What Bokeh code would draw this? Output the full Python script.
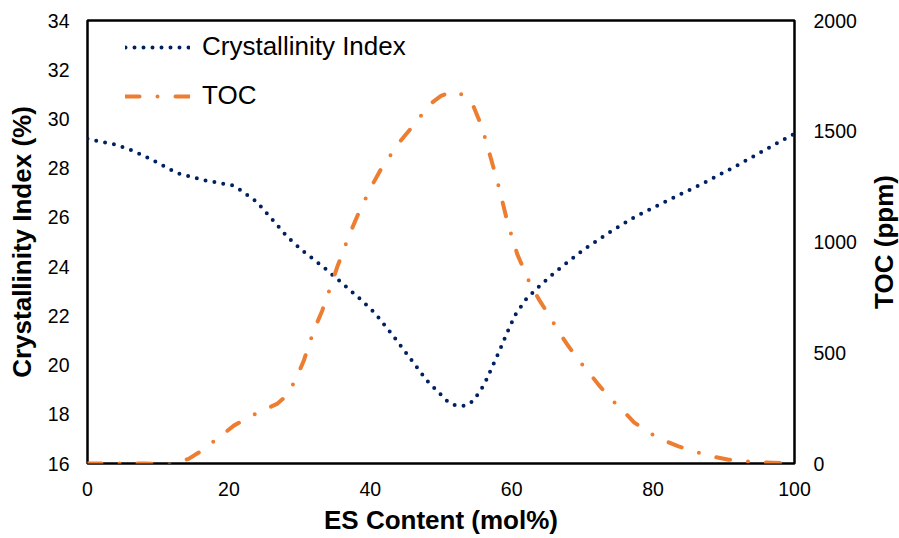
import math
from bokeh.plotting import figure
from bokeh.models import Range1d, LinearAxis, FixedTicker, Legend, LegendItem, Label
from bokeh.embed import file_html
from bokeh.resources import INLINE

# ---- data ----
ci_x = [0, 1.4, 4.0, 6.5, 9.0, 12.7, 16.7, 20.5, 21.7, 23.9, 26.6, 28.3, 30.4, 33.5,
        35.6, 38.7, 40.7, 43.2, 45.7, 48.0, 51.0, 52.1, 53.5, 54.6, 56.1, 57.2, 58.3,
        59.4, 60.5, 62.1, 64.0, 66.1, 70.3, 73.7, 77.3, 82.0, 86.9, 91.7, 96.5, 100]
ci_y = [29.2, 29.1, 28.96, 28.7, 28.36, 27.8, 27.5, 27.3, 27.1, 26.64, 25.76, 25.2, 24.65, 23.95,
        23.43, 22.65, 22.1, 21.2, 20.25, 19.37, 18.5, 18.35, 18.35, 18.55, 19.2, 19.9, 20.6,
        21.35, 22.04, 22.7, 23.23, 23.77, 24.72, 25.37, 26.0, 26.68, 27.36, 28.08, 28.85, 29.4]

toc_x = [0, 5, 8, 11.7, 14.3, 16.2, 18.2, 20.7, 24.2, 26.8, 28.2, 29.5, 30.6, 32.0, 33.2,
         34.6, 35.4, 37.1, 38.2, 40.1, 41.4, 44.0, 45.7, 48.5, 50.0, 51.3, 52.0, 52.8, 54.6,
         55.8, 56.9, 58.2, 59.4, 60.8, 62.7, 64.0, 65.3, 66.4, 67.8, 69.3, 70.7, 72.3, 74.0,
         75.5, 77.3, 79.4, 81.3, 83.6, 86.2, 88.1, 90.7, 93.3, 95.4, 98.0, 100]
toc_y = [0, 0, 0, -5, 21, 59, 108, 171, 232, 269, 307, 382, 465, 600, 690,
         818, 894, 1037, 1120, 1247, 1323, 1446, 1511, 1624, 1660, 1676, 1680, 1669, 1612,
         1518, 1395, 1247, 1089, 944, 804, 733, 668, 608, 540, 473, 420, 355, 292,
         247, 186, 139, 107, 77, 51, 33, 17, 9, 5, 2, 0]

x_ticks = [0, 20, 40, 60, 80, 100]
ci_ticks = [16, 18, 20, 22, 24, 26, 28, 30, 32, 34]
toc_ticks = [0, 500, 1000, 1500, 2000]

FONT = "Liberation Sans"
TICK_SIZE = "19.5px"
TITLE_SIZE = "26px"

p = figure(width=899, height=538, output_backend="svg", toolbar_location=None,
           x_range=Range1d(0, 100), y_range=Range1d(16, 34),
           min_border_left=87, min_border_right=105, min_border_top=20, min_border_bottom=75)
p.extra_y_ranges = {"toc": Range1d(0, 2000)}

p.xgrid.visible = False
p.ygrid.visible = False
p.outline_line_color = "black"
p.outline_line_width = 2.5
p.background_fill_color = "white"
p.border_fill_color = "white"

right_axis = LinearAxis(y_range_name="toc")
p.add_layout(right_axis, "right")

def style_axis(ax, ticks, label, standoff, title_standoff):
    ax.ticker = FixedTicker(ticks=ticks)
    ax.minor_tick_line_color = None
    ax.major_tick_line_color = None
    ax.major_tick_out = 0
    ax.major_tick_in = 0
    ax.axis_line_color = None
    ax.major_label_standoff = standoff
    ax.major_label_text_font = FONT
    ax.major_label_text_font_size = TICK_SIZE
    ax.major_label_text_color = "black"
    ax.axis_label = label
    ax.axis_label_text_font = FONT
    ax.axis_label_text_font_size = TITLE_SIZE
    ax.axis_label_text_font_style = "bold"
    ax.axis_label_text_color = "black"
    ax.axis_label_standoff = title_standoff

style_axis(p.xaxis[0], x_ticks, "ES Content (mol%)", 18, 6)
style_axis(p.yaxis[0], ci_ticks, "Crystallinity Index (%)", 18, 8)
style_axis(right_axis, toc_ticks, None, 19, 0)

# right-hand title (reads bottom to top), placed in the right side panel so it is not clipped
p.add_layout(Label(x=112.6, y=1000, y_range_name="toc",
                   text="TOC (ppm)", angle=math.pi / 2, text_align="center",
                   text_baseline="middle", text_font=FONT, text_font_size=TITLE_SIZE,
                   text_font_style="bold", text_color="black"), "right")

r_ci = p.line(ci_x, ci_y, line_color="#002060", line_width=4,
              line_dash="0 9", line_cap="round")
r_toc = p.line(toc_x, toc_y, y_range_name="toc", line_color="#ED7D31", line_width=4,
               line_dash="14 18 0 18", line_cap="round")

legend = Legend(items=[LegendItem(label="Crystallinity Index", renderers=[r_ci]),
                       LegendItem(label="TOC", renderers=[r_toc])],
                location=(38, 352), margin=0, padding=0,
                glyph_width=65, glyph_height=30, label_height=30, spacing=18,
                label_standoff=12, label_text_font=FONT, label_text_font_size=TITLE_SIZE,
                label_text_color="black", border_line_color=None,
                background_fill_alpha=0)
p.add_layout(legend)

open("out.html", "w").write(file_html(p, INLINE))
